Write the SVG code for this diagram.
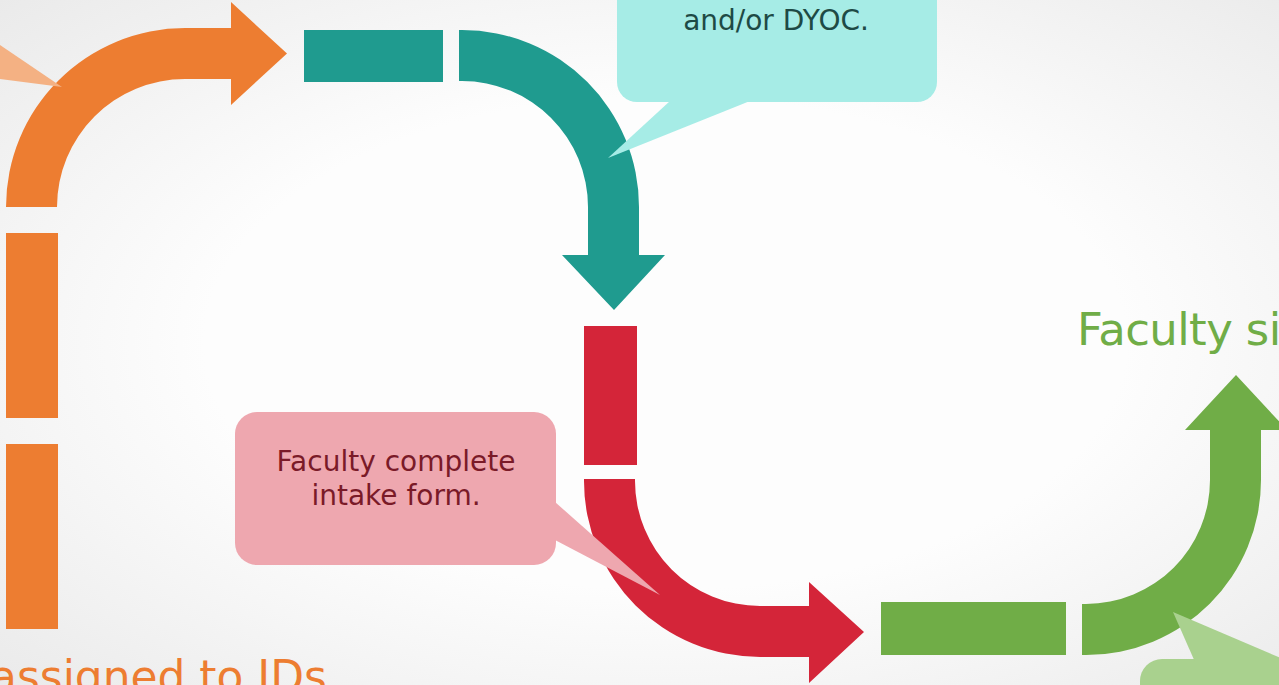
<svg xmlns="http://www.w3.org/2000/svg" width="1279" height="685" viewBox="0 0 1279 685">
<defs>
<radialGradient id="bg" cx="0.52" cy="0.5" r="0.8">
<stop offset="0.45" stop-color="#FDFDFD"/>
<stop offset="1" stop-color="#E6E6E6"/>
</radialGradient>
<style>
.or{fill:#ED7D31}.tl{fill:#1F9B8F}.rd{fill:#D42539}.gr{fill:#70AD47}
.orl{fill:#F4B183}.tll{fill:#A6ECE6}.rdl{fill:#EEA7AF}.grl{fill:#A9D18E}
.txt{font-family:"DejaVu Sans","Liberation Sans",sans-serif;font-size:28px;text-anchor:middle}
.ttl{font-family:"DejaVu Sans","Liberation Sans",sans-serif;font-size:45px}
</style>
</defs>
<rect width="1279" height="685" fill="url(#bg)"/>
<g id="connectors">
<g id="orange-arrow">
<rect class="or" x="6" y="444" width="52" height="185"/>
<rect class="or" x="6" y="233" width="52" height="185"/>
<path class="or" d="M6,207 A179 179 0 0 1 185,28 H231 V2 L287,53.5 L231,105 V79 H185 A128 128 0 0 0 57,207 Z"/>
</g>
<g id="teal-arrow">
<rect class="tl" x="304" y="30" width="139" height="52"/>
<path class="tl" d="M459,30 H462 A177 177 0 0 1 639,207 V255 H665 L614,310 L562,255 H588 V207 A126 126 0 0 0 462,81 H459 Z"/>
</g>
<g id="red-arrow">
<rect class="rd" x="584" y="326" width="53" height="139"/>
<path class="rd" d="M584,479 V481 A176 176 0 0 0 760,657 H809 V683 L864,632 L809,582 V606 H760 A125 125 0 0 1 635,481 V479 Z"/>
</g>
<g id="green-arrow">
<rect class="gr" x="881" y="602" width="185" height="53"/>
<path class="gr" d="M1082,655 H1086 A175 175 0 0 0 1261,480 V430 H1287 L1236,375 L1185,430 H1210 V480 A124 124 0 0 1 1086,604 H1082 Z"/>
</g>
</g>
<g id="callout-orange">
<polygon class="orl" points="0,45 62,87 0,79"/>
</g>
<g id="callout-teal">
<rect class="tll" x="617" y="-60" width="320" height="162" rx="20"/>
<polygon class="tll" points="670,101 608,158 750,101"/>
<text class="txt" x="776" y="30" fill="#1E4A45">and/or DYOC.</text>
</g>
<g id="callout-pink">
<rect class="rdl" x="235" y="412" width="321" height="153" rx="22"/>
<polygon class="rdl" points="555,502 660,595 555,540"/>
<text class="txt" x="396" y="471" fill="#7A1A28">Faculty complete</text>
<text class="txt" x="396" y="505" fill="#7A1A28">intake form.</text>
</g>
<g id="callout-green">
<rect class="grl" x="1140" y="659" width="200" height="100" rx="22"/>
<polygon class="grl" points="1195,662 1173,612 1290,662"/>
</g>
<g id="title-green">
<text class="ttl" x="1077" y="345" fill="#70AD47" letter-spacing="-0.6">Faculty si</text>
</g>
<g id="title-orange">
<text class="ttl" x="-10" y="692" fill="#ED7D31" textLength="337" lengthAdjust="spacingAndGlyphs">assigned to IDs</text>
</g>
</svg>
